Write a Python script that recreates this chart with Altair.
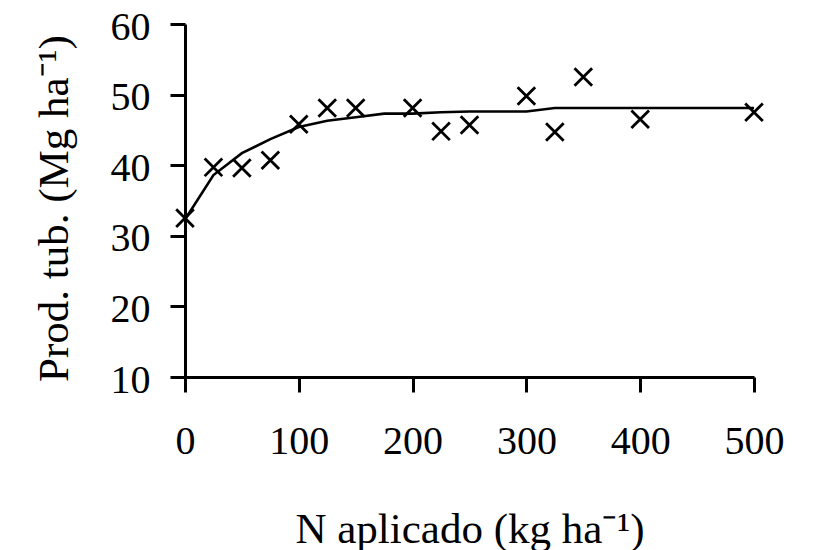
import altair as alt
import pandas as pd

# Observed data (crosses)
x_obs = [0, 25, 50, 75, 100, 125, 150, 200, 225, 250, 300, 325, 350, 400, 500]
y_obs = [32.5, 39.7, 39.6, 40.7, 45.8, 48.1, 48.1, 48.1, 44.8, 45.7, 49.8, 44.7, 52.5, 46.5, 47.5]

# Fitted curve values
x_fit = [0, 25, 50, 75, 100, 125, 150, 175, 200, 225, 250, 275, 300, 325, 350,
         375, 400, 425, 450, 475, 500]
y_fit = [32.3, 38.6, 41.7, 43.7, 45.4, 46.3, 46.8, 47.3, 47.3, 47.5, 47.6, 47.6, 47.6, 48.1, 48.1,
         48.1, 48.1, 48.1, 48.1, 48.1, 48.1]

x_ticks = [0, 100, 200, 300, 400, 500]
y_ticks = [10, 20, 30, 40, 50, 60]

obs = pd.DataFrame({"x": x_obs, "y": y_obs})
fit = pd.DataFrame({"x": x_fit, "y": y_fit})

FONT = "Liberation Serif"

xscale = alt.Scale(domain=[0, 500], nice=False, zero=False)
yscale = alt.Scale(domain=[10, 60], nice=False, zero=False)

xaxis = alt.Axis(values=x_ticks, title="N aplicado (kg ha⁻¹)", grid=False,
                 labelPadding=29, labelFlush=False, labelOverlap=False,
                 titleX=284.5, titleY=165,
                 titleAlign="center", titleBaseline="alphabetic")
yaxis = alt.Axis(values=y_ticks, title="Prod. tub. (Mg ha⁻¹)", grid=False,
                 labelPadding=20, labelOffset=3, labelFlush=False, labelOverlap=False,
                 titleX=-118, titleY=184,
                 titleAngle=270, titleAlign="center", titleBaseline="alphabetic")

line = alt.Chart(fit).mark_line(color="black", strokeWidth=2.6).encode(
    x=alt.X("x:Q", scale=xscale, axis=xaxis),
    y=alt.Y("y:Q", scale=yscale, axis=yaxis),
)

pts = alt.Chart(obs).mark_point(
    shape="M-1,-1L1,1M-1,1L1,-1", size=310, filled=False,
    stroke="black", strokeWidth=2.8, opacity=1,
).encode(
    x=alt.X("x:Q", scale=xscale),
    y=alt.Y("y:Q", scale=yscale),
)

chart = (line + pts).properties(
    width=569, height=353,
    autosize=alt.AutoSizeParams(type="none"),
    padding={"left": 177, "top": 16, "right": 44, "bottom": 175},
    background="white",
).configure_view(stroke=None).configure_axis(
    domainColor="black", domainWidth=3,
    tickColor="black", tickWidth=3, tickSize=15,
    labelFont=FONT, labelFontSize=40, labelColor="black",
    titleFont=FONT, titleFontSize=43, titleFontWeight="normal", titleColor="black",
)

chart.save("out.html", embed_options={"renderer": "svg", "actions": False})
